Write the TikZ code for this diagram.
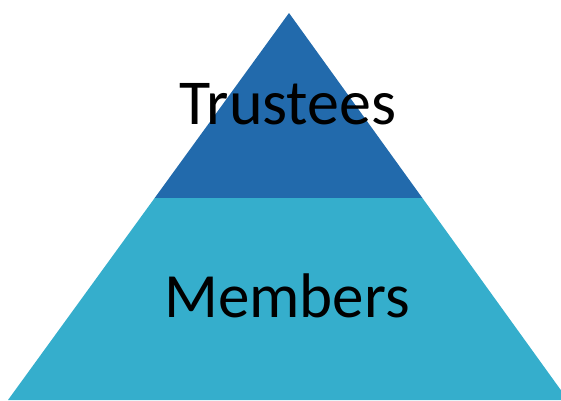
\documentclass[tikz,border=0pt]{standalone}
\usepackage{fontspec}
\setmainfont{Carlito}
\usepackage{xcolor}
\definecolor{TOPCOLOR}{RGB}{34,106,172}
\definecolor{BASECOLOR}{RGB}{53,174,204}
\usepackage{tikz}
\usetikzlibrary{calc}
\tikzset{
  level-style/.style = {
    fill=#1, draw=none
  },
  label-style/.style = {
    anchor=base, inner sep=0pt, text=black,
    font=\fontsize{#1}{#1}\selectfont
  },
  label-style/.default = 62
}

\begin{document}
\begin{tikzpicture}[x=1pt,y=-1pt]
    \useasboundingbox (0,0) rectangle (561,400);
    \clip (0,0) rectangle (561,400);

    %%% corners
    \coordinate (apex) at (289,13);
    \coordinate (baseL) at (8,400);
    \coordinate (baseR) at (568,400);
    \coordinate (splitL) at ($(apex)!0.478!(baseL)$);
    \coordinate (splitR) at ($(apex)!0.478!(baseR)$);

    %%% levels
    \path[level-style=BASECOLOR] (splitL) -- (splitR) -- (baseR) -- (baseL) -- cycle;
    \path[level-style=TOPCOLOR] (apex) -- (splitR) -- (splitL) -- cycle;

    %%% labels
    \node[label-style=64] (trustees) at (288,124) {Trustees};
    \node[label-style=63] (members) at (287,317) {Members};
\end{tikzpicture}
\end{document}
